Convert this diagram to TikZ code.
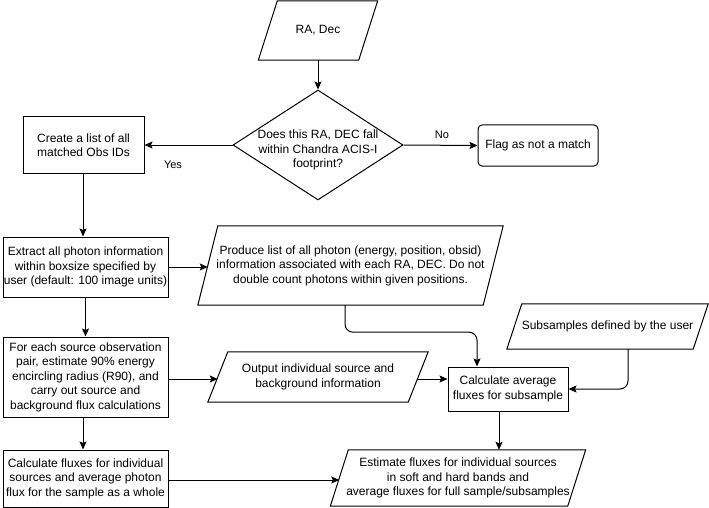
\documentclass[tikz,border=0pt]{standalone}
\usepackage{fontspec}
\setmainfont{Liberation Sans}
\usetikzlibrary{arrows.meta,shapes.geometric}
\tikzset{
  ln/.style={line width=1pt, draw=black},
  arr/.style={ln, -{Stealth[length=8pt,width=7pt,inset=1.5pt]}},
  txt/.style={font=\fontsize{12}{14.5}\selectfont, align=center, inner sep=0pt},
  box/.style={txt, ln, minimum width=#1},
  pbox/.style={txt, minimum width=#1},
  dec/.style={shape=diamond, ln, inner sep=0pt, minimum width=170pt, minimum height=110pt},
  lbl/.style={font=\fontsize{11}{13}\selectfont, inner sep=0pt}
}
\newcommand{\parashape}[2]{%
  \draw[ln] ([xshift=#2]#1.north west) -- ([xshift=#2]#1.north east) -- ([xshift=-#2]#1.south east) -- ([xshift=-#2]#1.south west) -- cycle;}
\begin{document}
\begin{tikzpicture}[x=1pt,y=-1pt]
\useasboundingbox (0,0) rectangle (709,508);
% nodes
\node[pbox=100pt, minimum height=59pt] (ra) at (318,30.5) {RA, Dec};
\parashape{ra}{9.5pt}
\node[dec] (dia) at (318,145) {};
\node[txt] (diatxt) at (318,150) {Does this RA, DEC fall\\within Chandra ACIS-I\\footprint?};
\node[box=120pt, minimum height=41pt, rounded corners=4pt] (flag) at (538,145.5) {Flag as not a match};
\node[box=121pt, minimum height=56pt] (create) at (83.5,145) {Create a list of all\\matched Obs IDs};
\node[box=165pt, minimum height=60pt] (extract) at (85.5,267) {Extract all photon information\\within boxsize specified by\\user (default: 100 image units)};
\node[pbox=285pt, minimum height=79pt] (produce) at (350.5,265.5) {Produce list of all photon (energy, position, obsid)\\information associated with each RA, DEC. Do not\\double count photons within given positions.};
\parashape{produce}{10pt}
\node[pbox=186pt, minimum height=45pt] (sub) at (607.5,326.5) {Subsamples defined by the user};
\parashape{sub}{7.5pt}
\node[box=165pt, minimum height=80pt] (foreach) at (85.5,377) {For each source observation\\pair, estimate 90\% energy\\encircling radius (R90), and\\carry out source and\\background flux calculations};
\node[pbox=200pt, minimum height=50pt] (output) at (318,377) {Output individual source and\\background information};
\parashape{output}{10pt}
\node[box=120pt, minimum height=44pt] (calc) at (508,389) {Calculate average\\fluxes for subsample};
\node[box=165pt, minimum height=57pt] (cf) at (85.5,478.5) {Calculate fluxes for individual\\sources and average photon\\flux for the sample as a whole};
\node[pbox=237pt, minimum height=56pt] (est) at (458,478) {Estimate fluxes for individual sources\\in soft and hard bands and\\average fluxes for full sample/subsamples};
\parashape{est}{9pt}
% labels
\node[lbl] (yes) at (173,165) {Yes};
\node[lbl] (no) at (442,135) {No};
% connectors
\draw[arr] (ra.south) -- (dia.north);
\draw[arr] (dia.east) -- (flag.west);
\draw[arr] (dia.west) -- (create.east);
\draw[arr] ([xshift=-0.5pt]create.south) -- ([xshift=-0.5pt]create.south |- extract.north);
\draw[arr] (extract.east) -- (extract.east -| produce.west);
\draw[arr] (extract.south) -- (foreach.north);
\draw[arr] ([xshift=-2.5pt]foreach.south) -- ([xshift=-2.5pt]cf.north);
\draw[arr] ([yshift=-2pt]foreach.east) -- ([yshift=-2pt]foreach.east -| output.west);
\draw[arr] ([yshift=-2pt]output.east) -- ([yshift=-2pt]output.east -| calc.west);
\draw[arr] ([yshift=-1.5pt]cf.east) -- ([yshift=-1.5pt]cf.east -| est.west);
\draw[arr, rounded corners=8pt] ([xshift=-5.5pt]produce.south) -- ++(0,27) -| ([xshift=-31pt]calc.north);
\draw[arr, rounded corners=8pt] ([xshift=20.5pt]sub.south) |- (calc.east);
\draw[arr] ([xshift=-9pt]calc.south) -- ([xshift=-9pt]calc.south |- est.north);
\end{tikzpicture}
\end{document}
